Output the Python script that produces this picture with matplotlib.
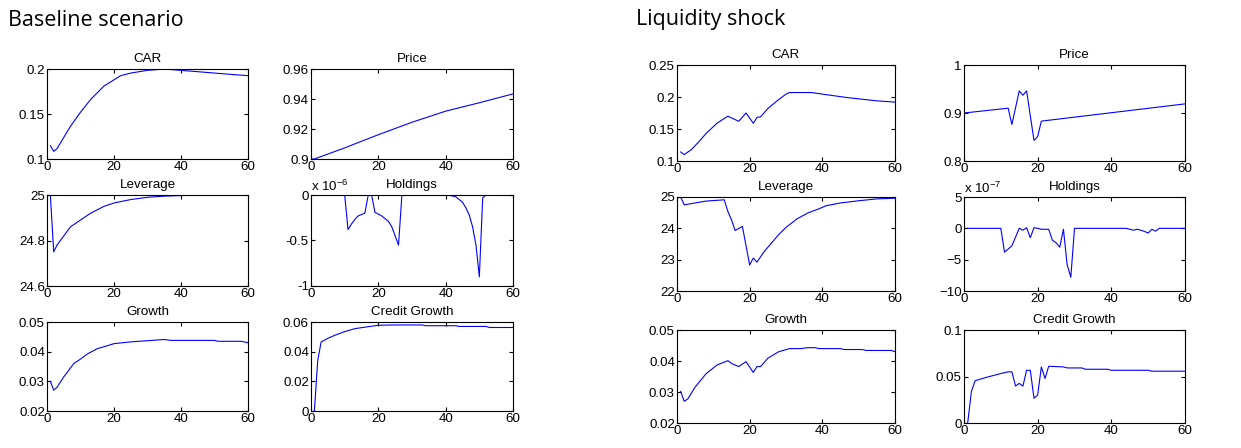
import numpy as np
import matplotlib.pyplot as plt

plt.rcParams['font.family'] = ['Liberation Sans', 'DejaVu Sans']
plt.rcParams['mathtext.fontset'] = 'custom'
plt.rcParams['mathtext.rm'] = 'Liberation Sans'

# baseline scenario
base_car_t = [1, 2, 3, 5, 7, 10, 13, 17, 20, 22, 25, 30, 35, 40, 45, 50, 55, 60]
base_car = [0.1148, 0.1085, 0.1115, 0.124, 0.1363, 0.152, 0.166, 0.181, 0.188, 0.1926,
            0.1955, 0.1985, 0.200, 0.1985, 0.197, 0.1955, 0.194, 0.1926]
base_price_t = [0, 1, 10, 20, 30, 40, 50, 60]
base_price = [0.900, 0.900, 0.9074, 0.9162, 0.9245, 0.9319, 0.9375, 0.9434]
base_lev_t = [1, 2, 3, 5, 7, 10, 13, 17, 20, 25, 30, 35, 45, 60]
base_lev = [25.0, 24.75, 24.78, 24.82, 24.86, 24.89, 24.92, 24.95, 24.965, 24.98, 24.99,
            24.995, 25.0, 25.0]
base_hold_t = [0, 10, 11, 12, 13, 14, 15, 16, 17, 18, 19, 20, 21, 22, 23, 24, 25, 26, 27,
               40, 41, 42, 43, 44, 45, 46, 47, 48, 49, 50, 51, 52, 60]
base_hold = [0, 0, -0.38, -0.32, -0.27, -0.23, -0.215, -0.2, 0, 0, -0.19, -0.21, -0.23,
             -0.26, -0.29, -0.35, -0.45, -0.55, 0,
             0, -0.005, -0.01, -0.02, -0.05, -0.08, -0.14, -0.22, -0.35, -0.55, -0.9,
             -0.03, 0, 0]
base_growth_t = [1, 2, 3, 5, 8, 10, 12, 15, 18, 20, 25, 30, 35, 37, 50, 51, 58, 60]
base_growth = [0.030, 0.027, 0.028, 0.0315, 0.036, 0.0375, 0.0392, 0.041, 0.042, 0.0427,
               0.0433, 0.0437, 0.0441, 0.0438, 0.0438, 0.0435, 0.0435, 0.043]
base_credit_t = [1, 2, 3, 5, 7, 10, 13, 16, 20, 25, 33, 34, 43, 44, 52, 53, 60]
base_credit = [0.0, 0.034, 0.0465, 0.049, 0.051, 0.0535, 0.0555, 0.0565, 0.0578, 0.058,
               0.058, 0.0575, 0.0575, 0.057, 0.057, 0.0563, 0.0563]

# liquidity shock
liq_car_t = [1, 2, 4, 6, 8, 11, 14, 17, 19, 21, 22, 23, 25, 28, 30, 31, 37, 40, 47, 55, 60]
liq_car = [0.1141, 0.110, 0.118, 0.130, 0.143, 0.159, 0.170, 0.162, 0.175, 0.159, 0.168,
           0.169, 0.182, 0.196, 0.2045, 0.207, 0.207, 0.2045, 0.199, 0.194, 0.192]
liq_price_t = [0, 12, 13, 15, 16, 17, 19, 20, 21, 22, 60]
liq_price = [0.900, 0.910, 0.876, 0.946, 0.937, 0.946, 0.843, 0.851, 0.883, 0.884, 0.919]
liq_lev_t = [1, 2, 5, 8, 13, 14, 15, 16, 18, 20, 21, 22, 24, 26, 28, 30, 33, 36, 39, 41,
             45, 50, 55, 60]
liq_lev = [25.0, 24.75, 24.81, 24.87, 24.91, 24.54, 24.27, 23.93, 24.06, 22.83, 23.05,
           22.92, 23.26, 23.53, 23.8, 24.03, 24.3, 24.49, 24.62, 24.72, 24.81, 24.88,
           24.94, 24.96]
liq_hold_t = [1, 10, 11, 13, 15, 16, 17, 18, 19, 20, 21, 23, 24, 25, 26, 27, 28, 29, 30,
              44, 45, 46, 47, 48, 49, 50, 51, 52, 53, 60]
liq_hold = [0, 0, -3.8, -2.8, 0, -0.3, 0.1, -1.5, 0.1, 0, -0.15, -0.15, -1.9, -2.3, -3.0,
            -0.15, -5.8, -7.8, 0, 0, -0.15, -0.3, -0.15, -0.3, -0.5, -0.75, -0.15, -0.45,
            0, 0]
liq_growth_t = [1, 2, 3, 5, 8, 11, 14, 15, 17, 19, 21, 22, 23, 25, 28, 31, 34, 36, 38, 39,
                45, 46, 51, 52, 59, 60]
liq_growth = [0.0302, 0.027, 0.0278, 0.0316, 0.0359, 0.0387, 0.0401, 0.0392, 0.0382,
              0.0398, 0.0363, 0.0382, 0.0382, 0.0409, 0.043, 0.044, 0.044, 0.0443, 0.0443,
              0.044, 0.044, 0.0437, 0.0437, 0.0434, 0.0434, 0.043]
liq_credit_t = [1, 2, 3, 6, 10, 12, 13, 14, 15, 16, 17, 18, 19, 20, 21, 22, 23, 27, 28, 32,
                33, 39, 40, 50, 51, 60]
liq_credit = [0.0, 0.0337, 0.0454, 0.049, 0.0532, 0.055, 0.055, 0.0397, 0.0426, 0.0397,
              0.0567, 0.0567, 0.0266, 0.0301, 0.0603, 0.0479, 0.061, 0.0603, 0.0592,
              0.0592, 0.0578, 0.0578, 0.0567, 0.0567, 0.0557, 0.0557]

W, H = 1241, 448
FS = 9.6
fig = plt.figure(figsize=(W / 100, H / 100), dpi=100)


def add_panel(left, right, top, bottom, t, y, title, ylim, yticks, yticklabels=None,
              exponent=None):
    ax = fig.add_axes([left / W, 1 - bottom / H, (right - left) / W, (bottom - top) / H])
    ax.plot(t, y, color=(0, 0, 1), lw=0.8)
    ax.set_xlim(0, 60)
    ax.set_ylim(*ylim)
    ax.set_xticks([0, 20, 40, 60])
    ax.set_yticks(yticks)
    if yticklabels is not None:
        ax.set_yticklabels(yticklabels)
    ax.tick_params(direction='in', length=3, width=0.8, labelsize=FS, pad=1.5,
                   top=True, right=True)
    for s in ax.spines.values():
        s.set_linewidth(0.8)
    ax.set_title(title, fontsize=FS, pad=5)
    if exponent is not None:
        ax.text(0.0, 1.01, 'x 10$^{%s}$' % exponent, transform=ax.transAxes,
                fontsize=FS, ha='left', va='bottom')
    return ax


# baseline grid
bx = [(47, 248), (311, 513)]
by = [(69, 159), (195, 286), (322, 411)]
add_panel(*bx[0], *by[0], base_car_t, base_car, 'CAR', (0.1, 0.2), [0.1, 0.15, 0.2],
          ['0.1', '0.15', '0.2'])
add_panel(*bx[1], *by[0], base_price_t, base_price, 'Price', (0.9, 0.96),
          [0.9, 0.92, 0.94, 0.96], ['0.9', '0.92', '0.94', '0.96'])
add_panel(*bx[0], *by[1], base_lev_t, base_lev, 'Leverage', (24.6, 25.0),
          [24.6, 24.8, 25.0], ['24.6', '24.8', '25'])
add_panel(*bx[1], *by[1], base_hold_t, base_hold, 'Holdings', (-1, 0), [-1, -0.5, 0],
          ['-1', '-0.5', '0'], exponent='-6')
add_panel(*bx[0], *by[2], base_growth_t, base_growth, 'Growth', (0.02, 0.05),
          [0.02, 0.03, 0.04, 0.05], ['0.02', '0.03', '0.04', '0.05'])
add_panel(*bx[1], *by[2], base_credit_t, base_credit, 'Credit Growth', (0, 0.06),
          [0, 0.02, 0.04, 0.06], ['0', '0.02', '0.04', '0.06'])

# liquidity shock grid
lx = [(677, 895), (964, 1185)]
ly = [(65, 161), (197, 291), (330, 423)]
add_panel(*lx[0], *ly[0], liq_car_t, liq_car, 'CAR', (0.1, 0.25),
          [0.1, 0.15, 0.2, 0.25], ['0.1', '0.15', '0.2', '0.25'])
add_panel(*lx[1], *ly[0], liq_price_t, liq_price, 'Price', (0.8, 1.0), [0.8, 0.9, 1.0],
          ['0.8', '0.9', '1'])
add_panel(*lx[0], *ly[1], liq_lev_t, liq_lev, 'Leverage', (22, 25), [22, 23, 24, 25])
add_panel(*lx[1], *ly[1], liq_hold_t, liq_hold, 'Holdings', (-10, 5), [-10, -5, 0, 5],
          exponent='-7')
add_panel(*lx[0], *ly[2], liq_growth_t, liq_growth, 'Growth', (0.02, 0.05),
          [0.02, 0.03, 0.04, 0.05], ['0.02', '0.03', '0.04', '0.05'])
add_panel(*lx[1], *ly[2], liq_credit_t, liq_credit, 'Credit Growth', (0, 0.1),
          [0, 0.05, 0.1], ['0', '0.05', '0.1'])

fig.text(8 / W, 1 - 20 / H, 'Baseline scenario', fontsize=15.5, family='Open Sans',
         ha='left', va='center')
fig.text(636 / W, 1 - 20 / H, 'Liquidity shock', fontsize=15.5, family='Open Sans',
         ha='left', va='center')

fig.savefig('out.png', dpi=100)
